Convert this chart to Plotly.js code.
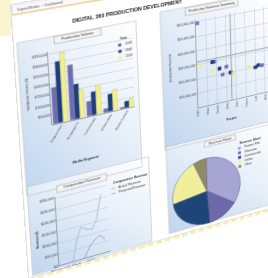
<!DOCTYPE html>
<html><head><meta charset="utf-8">
<script src="https://cdn.plot.ly/plotly-3.0.1.min.js"></script>
<style>
html,body{margin:0;padding:0;background:#fff;width:268px;height:278px;overflow:hidden;}
#corner{position:absolute;left:0;top:0;width:11px;height:36px;background:#fbf5cf;}
#wrap{position:absolute;left:0;top:0;width:260px;height:280px;transform-origin:0 0;border-bottom:3px dashed #f8efb0;}
#chart{width:260px;height:280px;}
</style></head><body>
<div id="corner"></div>
<div id="wrap"><div id="chart"></div></div>
<script>
// ---------------- DATA ----------------
const barCategories = ["Feature Film", "Broadcast TV", "Commercials", "Online Video", "Mobile Content"];
const barYears = ["2010", "2011", "2012"];
const bar2010 = [182000, 277000, 75000, 20000, 8000];
const bar2011 = [307000, 177000, 120000, 90000, 35000];
const bar2012 = [348000, 142000, 150000, 110000, 45000];
const barTickVals = [50000, 100000, 150000, 200000, 250000, 300000, 350000];
const barTickText = ["$50,000", "$100,000", "$150,000", "$200,000", "$250,000", "$300,000", "$350,000"];

const scatterCategories = ["Alpha", "Bravo", "Charlie", "Delta", "Echo", "Foxtrot", "Golf", "Hotel"];
const scatterNames = ["2010", "2011", "2012"];
const scPurpleX = [0.2, 1.8, 3.0, 2.6, 6.7];
const scPurpleY = [59000000, 29700000, 24600000, 19600000, 20100000];
const scNavyX = [1.6, 2.3, 3.4, 6.0, 6.3];
const scNavyY = [30000000, 24200000, 19900000, 19700000, 20700000];
const scYellowX = [0.4, 1.6, 3.7, 5.3];
const scYellowY = [28900000, 23750000, 18100000, 20700000];
const scQuadX = 3.5;
const scQuadY = 32000000;
const scTickVals = [10000000, 20000000, 30000000, 40000000, 50000000, 60000000];
const scTickText = ["$10,000,000", "$20,000,000", "$30,000,000", "$40,000,000", "$50,000,000", "$60,000,000"];

const lineNames = ["Actual Revenue", "Projected Revenue"];
const lineAWeeks = [15, 20, 25, 30, 37, 42, 45, 48];
const lineAValues = [0, 90000, 144000, 129000, 121000, 157000, 213000, 265000];
const lineBWeeks = [27, 35, 42, 45, 50];
const lineBValues = [0, 55000, 78000, 84000, 60000];
const lineTickVals = [0, 50000, 100000, 150000, 200000, 250000, 300000];
const lineTickText = ["$0", "$50,000", "$100,000", "$150,000", "$200,000", "$250,000", "$300,000"];

const pieLabels = ["Feature Film", "Television", "Commercials", "Online", "Other"];
const pieValues = [35, 14, 24, 21, 6];

// ---------------- STYLE ----------------
const W = 260, H = 280;
const cPurple = "#6f6cb3", cNavy = "#1e3f7c", cYellow = "#f2f08e";
const pieColors = ["#a7a5d4", "#6c68a9", "#1d4577", "#f1ef9c", "#8f8c62"];
const lineColors = ["#9db2d2", "#8299c4"];
const FONT = "Liberation Sans, Arial, sans-serif";

// perspective: figure corners -> picture corners
const Q = [[10, 4], [272, -40], [276, 207], [28, 279]];
function sq2quad(q) {
  const [x0, y0] = q[0], [x1, y1] = q[1], [x2, y2] = q[2], [x3, y3] = q[3];
  const dx1 = x1 - x2, dx2 = x3 - x2, dy1 = y1 - y2, dy2 = y3 - y2;
  const sx = x0 - x1 + x2 - x3, sy = y0 - y1 + y2 - y3;
  const den = dx1 * dy2 - dx2 * dy1;
  const g = (sx * dy2 - dx2 * sy) / den, h = (dx1 * sy - sx * dy1) / den;
  return {a: x1 - x0 + g * x1, b: x3 - x0 + h * x3, c: x0, d: y1 - y0 + g * y1, e: y3 - y0 + h * y3, f: y0, g: g, h: h};
}
const M = sq2quad(Q);
document.getElementById("wrap").style.transform =
  `matrix3d(${M.a / W},${M.d / W},0,${M.g / W},${M.b / H},${M.e / H},0,${M.h / H},0,0,1,0,${M.c},${M.f},0,1)`;
function toFig(X, Y) {
  const A = M.a - M.g * X, B = M.b - M.h * X, C = M.d - M.g * Y, D = M.e - M.h * Y;
  const det = A * D - B * C;
  const s = ((X - M.c) * D - B * (Y - M.f)) / det;
  const t = (A * (Y - M.f) - C * (X - M.c)) / det;
  return [s * W, t * H];
}
const px = u => u / W, py = v => 1 - v / H;
function dom(tl, br) {
  const a = toFig(tl[0], tl[1]), b = toFig(br[0], br[1]);
  return {x: [Math.max(0, px(a[0])), Math.min(1, px(b[0]))], y: [Math.max(0, py(b[1])), Math.min(1, py(a[1]))]};
}

const shapes = [], annotations = [], images = [];
function rectFig(u0, v0, u1, v1, line, fill, lw) {
  shapes.push({type: "rect", xref: "paper", yref: "paper", x0: px(u0), x1: px(u1), y0: py(v1), y1: py(v0),
    line: {color: line, width: lw === undefined ? 0.6 : lw}, fillcolor: fill || "rgba(0,0,0,0)", layer: "below"});
}
function textFig(u, v, text, size, opts) {
  annotations.push(Object.assign({xref: "paper", yref: "paper", x: px(u), y: py(v), text: text, showarrow: false,
    font: {size: size, color: "#333", family: FONT}, xanchor: "left", yanchor: "middle"}, opts || {}));
}
const gradSVG = "<svg xmlns='http://www.w3.org/2000/svg' width='100' height='100' viewBox='0 0 100 100' preserveAspectRatio='none'><defs><linearGradient id='g' x1='0' y1='1' x2='1' y2='0'><stop offset='0' stop-color='#bfd5ee'/><stop offset='0.55' stop-color='#e7eff9'/><stop offset='1' stop-color='#ffffff'/></linearGradient></defs><rect width='100' height='100' fill='url(#g)'/></svg>";
const gradSrc = "data:image/svg+xml;base64," + btoa(gradSVG);
function panel(tl, br) {
  const a = toFig(tl[0], tl[1]), b = toFig(br[0], br[1]);
  const u0 = a[0], v0 = a[1], u1 = Math.min(W - 1, b[0]), v1 = Math.min(H - 1, b[1]);
  images.push({source: gradSrc, xref: "paper", yref: "paper", x: px(u0), y: py(v0), sizex: px(u1) - px(u0),
    sizey: py(v0) - py(v1), xanchor: "left", yanchor: "top", sizing: "stretch", layer: "below"});
  rectFig(u0, v0, u1, v1, "#c4c4c4", null, 0.7);
}
function tab(center, w, h, text) {
  const c = toFig(center[0], center[1]);
  rectFig(c[0] - w / 2, c[1] - h / 2, c[0] + w / 2, c[1] + h / 2, "#9a9a9a", "#f4f4f4", 0.5);
  textFig(c[0], c[1], text, 3.6, {xanchor: "center"});
}
function legend(base, title, names, colors, kind, step) {
  const b = toFig(base[0], base[1]);
  textFig(b[0], b[1], "<b>" + title + "</b>", 3.3);
  names.forEach((n, i) => {
    const v = b[1] + step * (i + 1);
    if (kind === "line") {
      shapes.push({type: "line", xref: "paper", yref: "paper", x0: px(b[0]), x1: px(b[0] + 4), y0: py(v), y1: py(v),
        line: {color: colors[i], width: 0.8}});
    } else {
      rectFig(b[0], v - 1.4, b[0] + 2.8, v + 1.4, colors[i], colors[i], 0.3);
    }
    textFig(b[0] + 5, v, n, 3.2);
  });
}

// page frame & header
rectFig(0.5, 0.5, W - 0.5, H - 0.5, "#d6d6d6", null, 0.8);
rectFig(1.5, 2, 165, 10.5, "#cfcfcf", "#fafafa", 0.5);
shapes.push({type: "line", xref: "paper", yref: "paper", x0: px(1.5), x1: px(165), y0: py(11), y1: py(11), line: {color: "#f2bf72", width: 1}});
textFig(4, 7, "Digital Media  ›  Dashboard", 3.4, {font: {size: 3.4, color: "#555", family: FONT}});
const tpos = toFig(70, 19);
textFig(tpos[0], tpos[1] + 2.5, "<b>DIGITAL 360 PRODUCTION DEVELOPMENT</b>", 5.2, {font: {size: 5.2, color: "#1a1a1a", family: FONT}});

// panels
panel([17, 43], [142, 167]);
panel([160, 12], [279, 122]);
panel([27, 187], [152, 241]);
panel([166, 147], [279, 202]);
tab([78, 36], 44, 7, "Production Volume");
tab([212, 7], 56, 8, "Production Revenue Summary");
tab([82, 183], 48, 7, "Comparative Revenue");
tab([220, 141], 34, 6, "Revenue Share");

// domains
const d1 = dom([48, 52], [135, 106]);
const d2 = dom([195, 20], [270, 91]);
const d3 = dom([55, 197], [110, 251]);
const pc = toFig(207, 191), pr = 37;
const d4 = {x: [px(pc[0] - pr), px(pc[0] + pr)], y: [py(pc[1] + pr), py(pc[1] - pr)]};

// axis titles and extra labels
let p = toFig(27, 94); textFig(p[0], p[1], "Production Volume ($)", 3.3, {textangle: -90, xanchor: "center"});
p = toFig(86, 160); textFig(p[0], p[1], "<b>Media Segment</b>", 3.4, {xanchor: "center"});
p = toFig(170, 68); textFig(p[0], p[1], "Production Revenue", 3.3, {textangle: -90, xanchor: "center"});
p = toFig(232, 119); textFig(p[0], p[1], "<b>Project</b>", 3.4, {xanchor: "center"});
p = toFig(37, 240); textFig(p[0], p[1], "<b>Revenue ($)</b>", 3.3, {textangle: -90, xanchor: "center"});
p = toFig(74, 266); textFig(p[0], p[1], "Revenue by Week  ·  2012", 3.6, {xanchor: "center", font: {size: 3.6, color: "#4646d8", family: FONT}});

// legends
legend([118, 39], "Year", barYears, [cPurple, cNavy, cYellow], "box", 6.5);
legend([111, 184], "Comparative Revenue", lineNames, lineColors, "line", 5.5);
legend([238, 144], "Revenue Share", pieLabels, pieColors, "box", 5.2);

// quadrant lines in scatter
shapes.push({type: "line", xref: "x2", yref: "y2 domain", x0: scQuadX, x1: scQuadX, y0: 0, y1: 1, line: {color: "#8d97aa", width: 0.9}});
shapes.push({type: "line", xref: "x2 domain", yref: "y2", x0: 0, x1: 1, y0: scQuadY, y1: scQuadY, line: {color: "#8d97aa", width: 0.9}});

// ---------------- TRACES ----------------
const barLine = {color: "#55556a", width: 0.3};
const traces = [
  {type: "bar", name: barYears[0], x: barCategories, y: bar2010, marker: {color: cPurple, line: barLine}, xaxis: "x", yaxis: "y"},
  {type: "bar", name: barYears[1], x: barCategories, y: bar2011, marker: {color: cNavy, line: barLine}, xaxis: "x", yaxis: "y"},
  {type: "bar", name: barYears[2], x: barCategories, y: bar2012, marker: {color: cYellow, line: {color: "#b9b766", width: 0.3}}, xaxis: "x", yaxis: "y"},
  {type: "scatter", mode: "markers", name: scatterNames[0], x: scPurpleX, y: scPurpleY, marker: {color: "#7a73b9", size: 4, symbol: "square"}, xaxis: "x2", yaxis: "y2"},
  {type: "scatter", mode: "markers", name: scatterNames[1], x: scNavyX, y: scNavyY, marker: {color: cNavy, size: 4, symbol: "square"}, xaxis: "x2", yaxis: "y2"},
  {type: "scatter", mode: "markers", name: scatterNames[2], x: scYellowX, y: scYellowY, marker: {color: "#f0ee86", size: 4, symbol: "square"}, xaxis: "x2", yaxis: "y2"},
  {type: "scatter", mode: "lines", name: lineNames[0], x: lineAWeeks, y: lineAValues, line: {color: lineColors[0], width: 0.8}, xaxis: "x3", yaxis: "y3"},
  {type: "scatter", mode: "lines", name: lineNames[1], x: lineBWeeks, y: lineBValues, line: {color: lineColors[1], width: 0.8}, xaxis: "x3", yaxis: "y3"},
  {type: "pie", labels: pieLabels, values: pieValues, marker: {colors: pieColors, line: {color: "#5f5c8e", width: 0.5}},
    sort: false, direction: "clockwise", rotation: 0, textinfo: "none", domain: d4, hoverinfo: "none"}
];

const tick = {size: 3.2, color: "#444", family: FONT};
const grid = "#b2bac8";
const layout = {
  width: W, height: H, margin: {l: 0, r: 0, t: 0, b: 0, pad: 0},
  paper_bgcolor: "#ffffff", plot_bgcolor: "rgba(0,0,0,0)", showlegend: false,
  font: {family: FONT, size: 3.4, color: "#333"},
  barmode: "group", bargap: 0.14, bargroupgap: 0.03,
  xaxis: {domain: d1.x, anchor: "y", type: "category", tickangle: -55, tickfont: tick, showgrid: false, showline: true,
    linecolor: "#666", linewidth: 0.5, ticks: "", automargin: false, fixedrange: true},
  yaxis: {domain: d1.y, anchor: "x", range: [0, 362000], tickvals: barTickVals, ticktext: barTickText, tickfont: tick,
    gridcolor: grid, gridwidth: 0.4, showline: true, linecolor: "#666", linewidth: 0.5, zeroline: false, automargin: false, ticks: "", ticklen: 0},
  xaxis2: {domain: d2.x, anchor: "y2", range: [0, 7.5], tickvals: [0, 1, 2, 3, 4, 5, 6, 7], ticktext: scatterCategories, tickangle: -90,
    tickfont: tick, gridcolor: grid, gridwidth: 0.4, showline: true, linecolor: "#666", linewidth: 0.5, zeroline: false, automargin: false},
  yaxis2: {domain: d2.y, anchor: "x2", range: [0, 61500000], tickvals: scTickVals, ticktext: scTickText, tickfont: tick,
    gridcolor: grid, gridwidth: 0.4, showline: true, linecolor: "#666", linewidth: 0.5, zeroline: false, automargin: false},
  xaxis3: {domain: d3.x, anchor: "y3", range: [0, 55], showticklabels: false, showgrid: false, showline: true,
    linecolor: "#666", linewidth: 0.5, zeroline: false, automargin: false},
  yaxis3: {domain: d3.y, anchor: "x3", range: [0, 305000], tickvals: lineTickVals, ticktext: lineTickText, tickfont: tick,
    gridcolor: grid, gridwidth: 0.4, showline: true, linecolor: "#666", linewidth: 0.5, zeroline: false, automargin: false},
  shapes: shapes, annotations: annotations, images: images
};
Plotly.newPlot("chart", traces, layout, {staticPlot: true, displayModeBar: false});
</script>
</body></html>
